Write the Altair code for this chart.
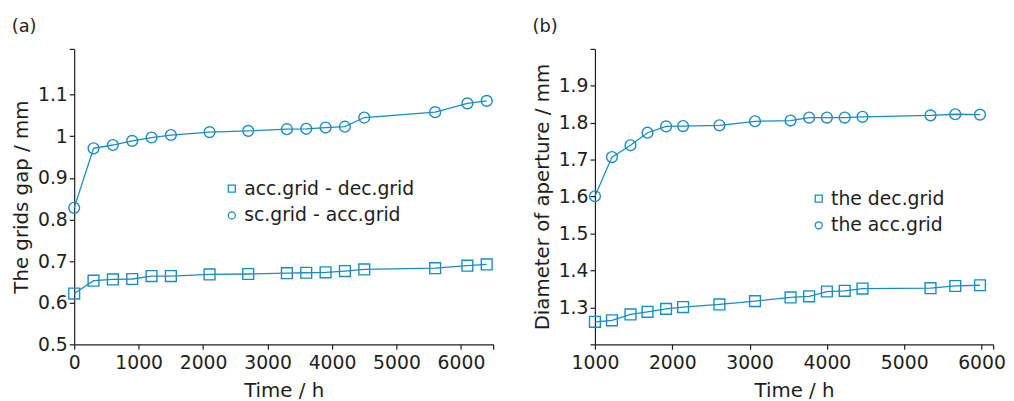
import altair as alt
import pandas as pd

# ---- data ----
time_a = [0, 300, 600, 900, 1200, 1500, 2100, 2700, 3300, 3600, 3900, 4200, 4500, 5600, 6100, 6400]
acc_dec_gap = [0.622, 0.653, 0.656, 0.657, 0.664, 0.664, 0.668, 0.669, 0.671, 0.672, 0.673, 0.676, 0.680, 0.683, 0.689, 0.692]
sc_acc_gap = [0.828, 0.971, 0.979, 0.989, 0.997, 1.003, 1.010, 1.013, 1.017, 1.018, 1.021, 1.023, 1.045, 1.058, 1.079, 1.085]

time_b = [1000, 1220, 1460, 1680, 1920, 2140, 2610, 3070, 3530, 3770, 4000, 4230, 4460, 5340, 5660, 5980]
dec_diam = [1.261, 1.265, 1.281, 1.288, 1.296, 1.301, 1.308, 1.317, 1.327, 1.330, 1.343, 1.345, 1.351, 1.352, 1.358, 1.360]
acc_diam = [1.601, 1.707, 1.739, 1.773, 1.790, 1.791, 1.793, 1.804, 1.806, 1.814, 1.814, 1.814, 1.816, 1.820, 1.823, 1.822]

series_a = ["acc.grid - dec.grid", "sc.grid - acc.grid"]
series_b = ["the dec.grid", "the acc.grid"]

xticks_a = [0, 1000, 2000, 3000, 4000, 5000, 6000, 6500]
yticks_a = [0.5, 0.6, 0.7, 0.8, 0.9, 1.0, 1.1, 1.21]
xticks_b = [1000, 2000, 3000, 4000, 5000, 6000, 6150]
yticks_b = [1.2, 1.3, 1.4, 1.5, 1.6, 1.7, 1.8, 1.9, 2.0]

BLUE = "#1a8cc0"
INK = "#1e1e1e"
FONT = "DejaVu Sans"

df_a = pd.concat([
    pd.DataFrame({"t": time_a, "v": acc_dec_gap, "s": series_a[0]}),
    pd.DataFrame({"t": time_a, "v": sc_acc_gap, "s": series_a[1]}),
])
df_b = pd.concat([
    pd.DataFrame({"t": time_b, "v": dec_diam, "s": series_b[0]}),
    pd.DataFrame({"t": time_b, "v": acc_diam, "s": series_b[1]}),
])


def axis(values, hide_above=None, hide_below=None, title=None, **kw):
    cond = []
    if hide_above is not None:
        cond.append(f"datum.value > {hide_above}")
    if hide_below is not None:
        cond.append(f"datum.value < {hide_below}")
    expr = "datum.label"
    if cond:
        expr = f"({' || '.join(cond)}) ? '' : datum.label"
    return alt.Axis(values=values, labelExpr=expr, title=title, grid=False,
                    tickSize=5, tickColor=INK, domainColor=INK, tickWidth=1.2,
                    domainWidth=1.2, labelColor=INK, titleColor=INK,
                    labelFont=FONT, titleFont=FONT, labelFontSize=19,
                    titleFontSize=20, titleFontWeight="normal",
                    labelFlush=False, labelOverlap=False, **kw)


def panel(df, series, xdom, ydom, xt, yt, xhide, yhide_above, yhide_below,
          ytitle, lx, ly, label, fmt, w):
    x = alt.X("t:Q", scale=alt.Scale(domain=xdom, nice=False, zero=False),
              axis=axis(xt, hide_above=xhide, title="Time / h",
                        labelPadding=4, titlePadding=9, format="d"))
    y = alt.Y("v:Q", scale=alt.Scale(domain=ydom, nice=False, zero=False),
              axis=axis(yt, hide_above=yhide_above, hide_below=yhide_below,
                        title=ytitle, labelPadding=2, titlePadding=6, format=fmt))
    line = alt.Chart(df).mark_line(color=BLUE, strokeWidth=1.3).encode(
        x=x, y=y, detail="s:N")
    pts = alt.Chart(df).mark_point(color=BLUE, filled=False, size=120,
                                   strokeWidth=1.4, opacity=1).encode(
        x=x, y=y,
        shape=alt.Shape("s:N", scale=alt.Scale(domain=series, range=["square", "circle"]),
                        legend=alt.Legend(title=None, orient="none", legendX=lx, legendY=ly,
                                          labelFont=FONT, labelFontSize=19, labelColor=INK,
                                          symbolSize=50, symbolStrokeWidth=1.3,
                                          symbolStrokeColor=BLUE, symbolFillColor="transparent",
                                          labelOffset=3, rowPadding=7, padding=0,
                                          labelLimit=400)))
    return alt.layer(line, pts).properties(
        width=w, height=299,
        title=alt.TitleParams(label, anchor="start", frame="bounds", font=FONT,
                              fontSize=18, fontWeight="normal", color=INK, offset=4))


a = panel(df_a, series_a, [0, 6500], [0.5, 1.21], xticks_a, yticks_a, 6000, 1.15, None,
          "The grids gap / mm", 150, 132, "(a)", "", 424)
b = panel(df_b, series_b, [1000, 6150], [1.2, 2.0], xticks_b, yticks_b, 6000, 1.95, 1.25,
          "Diameter of aperture / mm", 217, 142, "(b)", ".1f", 403)

chart = alt.hconcat(a, b, spacing=37).resolve_scale(
    shape="independent", x="independent", y="independent"
).resolve_legend(shape="independent").properties(
    padding={"left": 3, "top": 8, "right": 0, "bottom": 0}
).configure_view(stroke=None)

chart.save("out.html", embed_options={"renderer": "svg", "actions": False})
